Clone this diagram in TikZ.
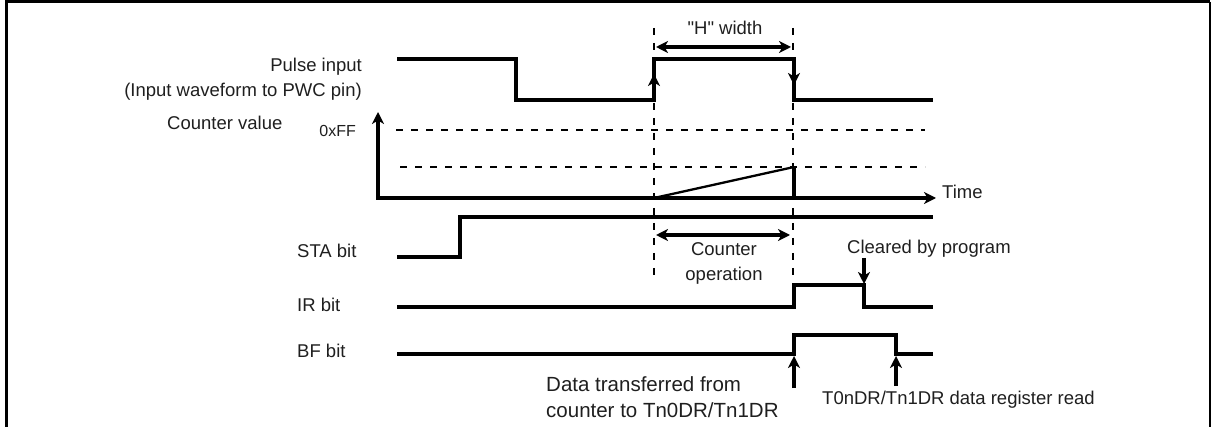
\documentclass[tikz,border=0pt]{standalone}
\usepackage{fontspec}
\setmainfont{Liberation Sans}
\usetikzlibrary{arrows.meta, positioning}

\tikzstyle{wave} = [line width=3.4pt, line join=miter]
\tikzstyle{guide} = [line width=1.7pt, dash pattern=on 7pt off 8pt]
\tikzstyle{arrow} = [line width=3.4pt,->,>={Stealth[length=12pt,width=12pt,inset=3.5pt]}]
\tikzstyle{dimarrow} = [line width=3.4pt,<->,>={Stealth[length=12pt,width=12pt,inset=3.5pt]}]
\tikzstyle{lbl} = [inner sep=0pt, font=\fontsize{18.5}{25}\selectfont, text=black!88]

\begin{document}
\begin{tikzpicture}[x=1pt, y=-1pt]
\useasboundingbox (0,0) rectangle (1214,427);

% frame, open at the bottom
\draw [line width=3.2pt] (6.5,427) -- (6.5,1.6) -- (1210,1.6);
\draw [line width=1.6pt] (1210,1.6) -- (1210,427);

% labels on the left
\node (pulse) [lbl, anchor=base east] at (362,72) {Pulse input};
\node (pulsenote) [lbl, anchor=base east] at (362,97) {(Input waveform to PWC pin)};
\node (cnt) [lbl, anchor=base west] at (167,130) {Counter value};
\node (ff) [lbl, anchor=base east, font=\fontsize{16}{19}\selectfont] at (356,137) {0xFF};
\node (sta) [lbl, anchor=base west] at (297,258) {STA bit};
\node (ir) [lbl, anchor=base west] at (297,311) {IR bit};
\node (bf) [lbl, anchor=base west] at (297,357) {BF bit};

% pulse input
\draw [wave] (397,59) -- (516,59) -- (516,100) -- (654,100) -- (654,59) -- (794,59) -- (794,100) -- (933,100);
\draw [arrow] (654,100) -- (654,74);
\draw [arrow] (794,59) -- (794,85);

% dashed guides
\draw [guide] (654,28) -- (654,276);
\draw [guide] (793,28) -- (793,281);
\node (hw) [lbl, anchor=base] at (725,35) {\textquotedbl H\textquotedbl\ width};
\draw [dimarrow] (656,47) -- (791,47);

% counter value
\draw [dimarrow] (378,112) -- (378,198) -- (936,198);
\node (time) [lbl, anchor=base west] at (942,199) {Time};
\draw [guide] (396,130) -- (925,130);
\draw [guide] (400,167) -- (925,167);
\draw [line width=2.3pt] (654,198) -- (794,167);
\draw [wave] (794,167) -- (794,198);

% STA bit
\draw [wave] (397,257) -- (460,257) -- (460,217) -- (933,217);
\draw [dimarrow] (656,235) -- (790,235);
\node (op) [lbl, align=center, anchor=base] at (724,281) {Counter\\operation};

% IR bit
\draw [wave] (397,307) -- (794,307) -- (794,285) -- (864,285) -- (864,307) -- (933,307);
\node (clr) [lbl, anchor=base west] at (847,254) {Cleared by program};
\draw [arrow] (864,258) -- (864,284);

% BF bit
\draw [wave] (397,354) -- (794,354) -- (794,335) -- (896,335) -- (896,354) -- (933,354);
\draw [arrow] (794,388) -- (794,356);
\draw [arrow] (896,386) -- (896,356);
\node (xfer) [lbl, align=left, anchor=base west, font=\fontsize{20.5}{26}\selectfont] at (546,417) {Data transferred from\\counter to Tn0DR/Tn1DR};
\node (rd) [lbl, anchor=base west] at (822,404) {T0nDR/Tn1DR data register read};
\end{tikzpicture}
\end{document}
